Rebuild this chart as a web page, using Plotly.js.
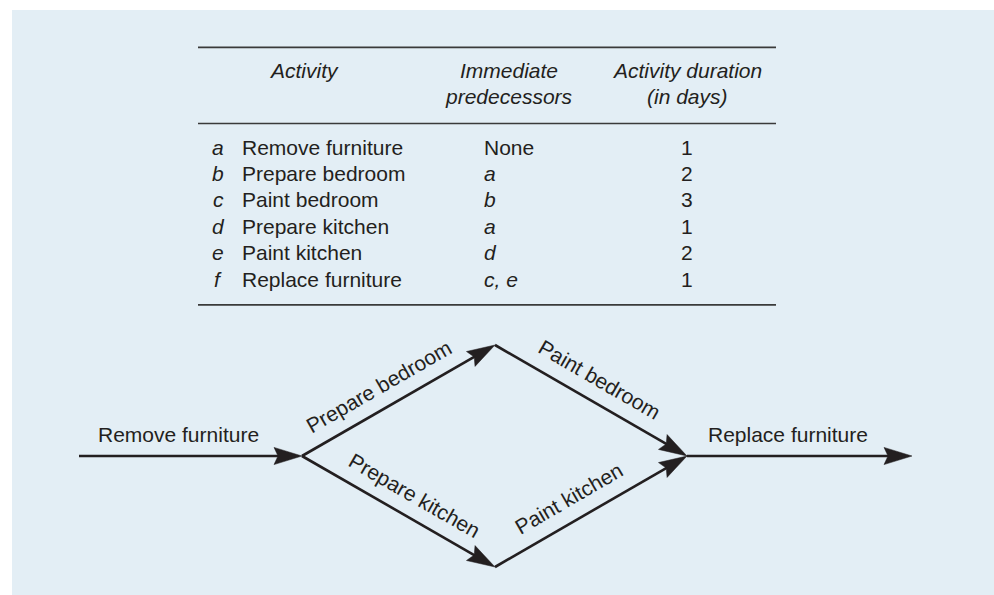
<!DOCTYPE html>
<html>
<head>
<meta charset="utf-8">
<script src="https://cdn.plot.ly/plotly-3.0.1.min.js"></script>
<style>
  html, body { margin: 0; padding: 0; background: #ffffff; }
  #chart { width: 994px; height: 595px; }
</style>
</head>
<body>
<div id="chart"></div>
<script>
// ---------------- DATA ----------------
const letters = ['a', 'b', 'c', 'd', 'e', 'f'];
const activities = ['Remove furniture', 'Prepare bedroom', 'Paint bedroom',
                    'Prepare kitchen', 'Paint kitchen', 'Replace furniture'];
const predecessors = ['None', 'a', 'b', 'a', 'd', 'c, e'];
const durations = [1, 2, 3, 1, 2, 1];
const headerActivity = ['Activity'];
const headerPredecessors = ['Immediate', 'predecessors'];
const headerDuration = ['Activity duration', '(in days)'];

// ---------------- LAYOUT / STYLE ----------------
const W = 994, H = 595;
const INK = '#231f20';
const RULE = '#3a3a3a';
const BG = '#e3eef5';
const FONT = 'Liberation Sans, Arial, Helvetica, sans-serif';
const FS = 21;
const BASE_TO_MID = 7.3;          // baseline -> annotation middle

const tableX0 = 198, tableX1 = 776;
const ruleYs = [47.3, 123.5, 304.8];
const headerBase = 77.7, headerStep = 26;
const rowBase = 154.3, rowStep = 26.4;
const colLetterX = 218, colNameX = 240, colPredX = 482, colDurX = 687;
const colActHeadX = 304, colPredHeadX = 509, colDurHeadX = 687;

// network layout
const DEPTH_X = [79, 302, 495, 687, 912];
const CENTER_Y = 456, LANE_GAP = 222;
const HEAD_LEN = 28, HEAD_HALF = 8.6, HEAD_NOTCH = 24;
const LINE_W = 2.6;
const LABEL_OFF = 22;
const labelShift = [1.5, 4, 11, 20, 1, 2.5];

// ---------------- BUILD ----------------
const shapes = [];
const annotations = [];
const traces = [];

shapes.push({type: 'rect', xref: 'x', yref: 'y', x0: 12, x1: W + 5, y0: 10, y1: H + 5,
             fillcolor: BG, line: {width: 0}, layer: 'below'});
ruleYs.forEach(y => shapes.push({type: 'line', xref: 'x', yref: 'y', x0: tableX0, x1: tableX1,
             y0: y, y1: y, line: {color: RULE, width: 1.7}}));

function ann(text, x, y, xanchor, extra) {
  return Object.assign({text: text, x: x, y: y, xref: 'x', yref: 'y', showarrow: false,
    xanchor: xanchor, yanchor: 'middle', font: {family: FONT, size: FS, color: INK}}, extra || {});
}

// headers
[[headerActivity, colActHeadX], [headerPredecessors, colPredHeadX], [headerDuration, colDurHeadX]]
  .forEach(([lines, x]) => lines.forEach((t, k) =>
    annotations.push(ann('<i>' + t + '</i>', x, headerBase + k * headerStep - BASE_TO_MID, 'center'))));

// rows
letters.forEach((l, i) => {
  const y = rowBase + i * rowStep - BASE_TO_MID;
  annotations.push(ann('<i>' + l + '</i>', colLetterX, y, 'center'));
  annotations.push(ann(activities[i], colNameX, y, 'left'));
  const p = predecessors[i] === 'None' ? 'None' : '<i>' + predecessors[i] + '</i>';
  annotations.push(ann(p, colPredX, y, 'left'));
  annotations.push(ann(String(durations[i]), colDurX, y, 'center'));
});

// ---- network: events derived from predecessors ----
function startKey(i) {
  return predecessors[i] === 'None' ? 'START' : predecessors[i].split(',').map(s => s.trim()).sort().join(',');
}
function endKey(i) {
  const succ = letters.map((_, j) => j).filter(j => startKey(j).split(',').includes(letters[i]));
  return succ.length ? startKey(succ[0]) : 'END';
}
const depth = {START: 0};
let changed = true;
while (changed) {
  changed = false;
  letters.forEach((_, i) => {
    const s = startKey(i), e = endKey(i);
    if (depth[s] !== undefined) {
      const d = depth[s] + 1;
      if (depth[e] === undefined || depth[e] < d) { depth[e] = d; changed = true; }
    }
  });
}
const byDepth = {};
Object.keys(depth).forEach(k => (byDepth[depth[k]] = byDepth[depth[k]] || []).push(k));
const pos = {};
Object.keys(byDepth).forEach(d => {
  const ks = byDepth[d];
  ks.sort();
  ks.forEach((k, idx) => {
    const lane = (ks.length - 1) / 2 - idx;
    pos[k] = [DEPTH_X[+d], CENTER_Y - lane * LANE_GAP];
  });
});

letters.forEach((_, i) => {
  const [x0, y0] = pos[startKey(i)];
  const [x1, y1] = pos[endKey(i)];
  const dx = x1 - x0, dy = y1 - y0, len = Math.hypot(dx, dy);
  const ux = dx / len, uy = dy / len;
  // normal pointing up on screen
  let nx = uy, ny = -ux;
  if (ny > 0) { nx = -nx; ny = -ny; }
  // shaft
  const sx = x1 - ux * (HEAD_NOTCH - 1), sy = y1 - uy * (HEAD_NOTCH - 1);
  traces.push({type: 'scatter', mode: 'lines', x: [x0, sx], y: [y0, sy],
    line: {color: INK, width: LINE_W}, hoverinfo: 'skip'});
  // arrowhead
  const bx = x1 - ux * HEAD_LEN, by = y1 - uy * HEAD_LEN;
  const qx = x1 - ux * HEAD_NOTCH, qy = y1 - uy * HEAD_NOTCH;
  traces.push({type: 'scatter', mode: 'lines', fill: 'toself', fillcolor: INK,
    x: [x1, bx + nx * HEAD_HALF, qx, bx - nx * HEAD_HALF, x1],
    y: [y1, by + ny * HEAD_HALF, qy, by - ny * HEAD_HALF, y1],
    line: {color: INK, width: 0.5}, hoverinfo: 'skip'});
  // label
  const mx = (x0 + bx) / 2 + ux * labelShift[i] + nx * LABEL_OFF;
  const my = (y0 + by) / 2 + uy * labelShift[i] + ny * LABEL_OFF;
  const ang = Math.atan2(dy, dx) * 180 / Math.PI;
  annotations.push(ann(activities[i], mx, my, 'center', {textangle: ang}));
});

const layout = {
  width: W, height: H,
  margin: {l: 0, r: 0, t: 0, b: 0, pad: 0},
  paper_bgcolor: '#ffffff', plot_bgcolor: 'rgba(0,0,0,0)',
  showlegend: false,
  xaxis: {range: [0, W], visible: false, fixedrange: true},
  yaxis: {range: [H, 0], visible: false, fixedrange: true},
  shapes: shapes, annotations: annotations
};
Plotly.newPlot('chart', traces, layout, {displayModeBar: false, staticPlot: true});
</script>
</body>
</html>
